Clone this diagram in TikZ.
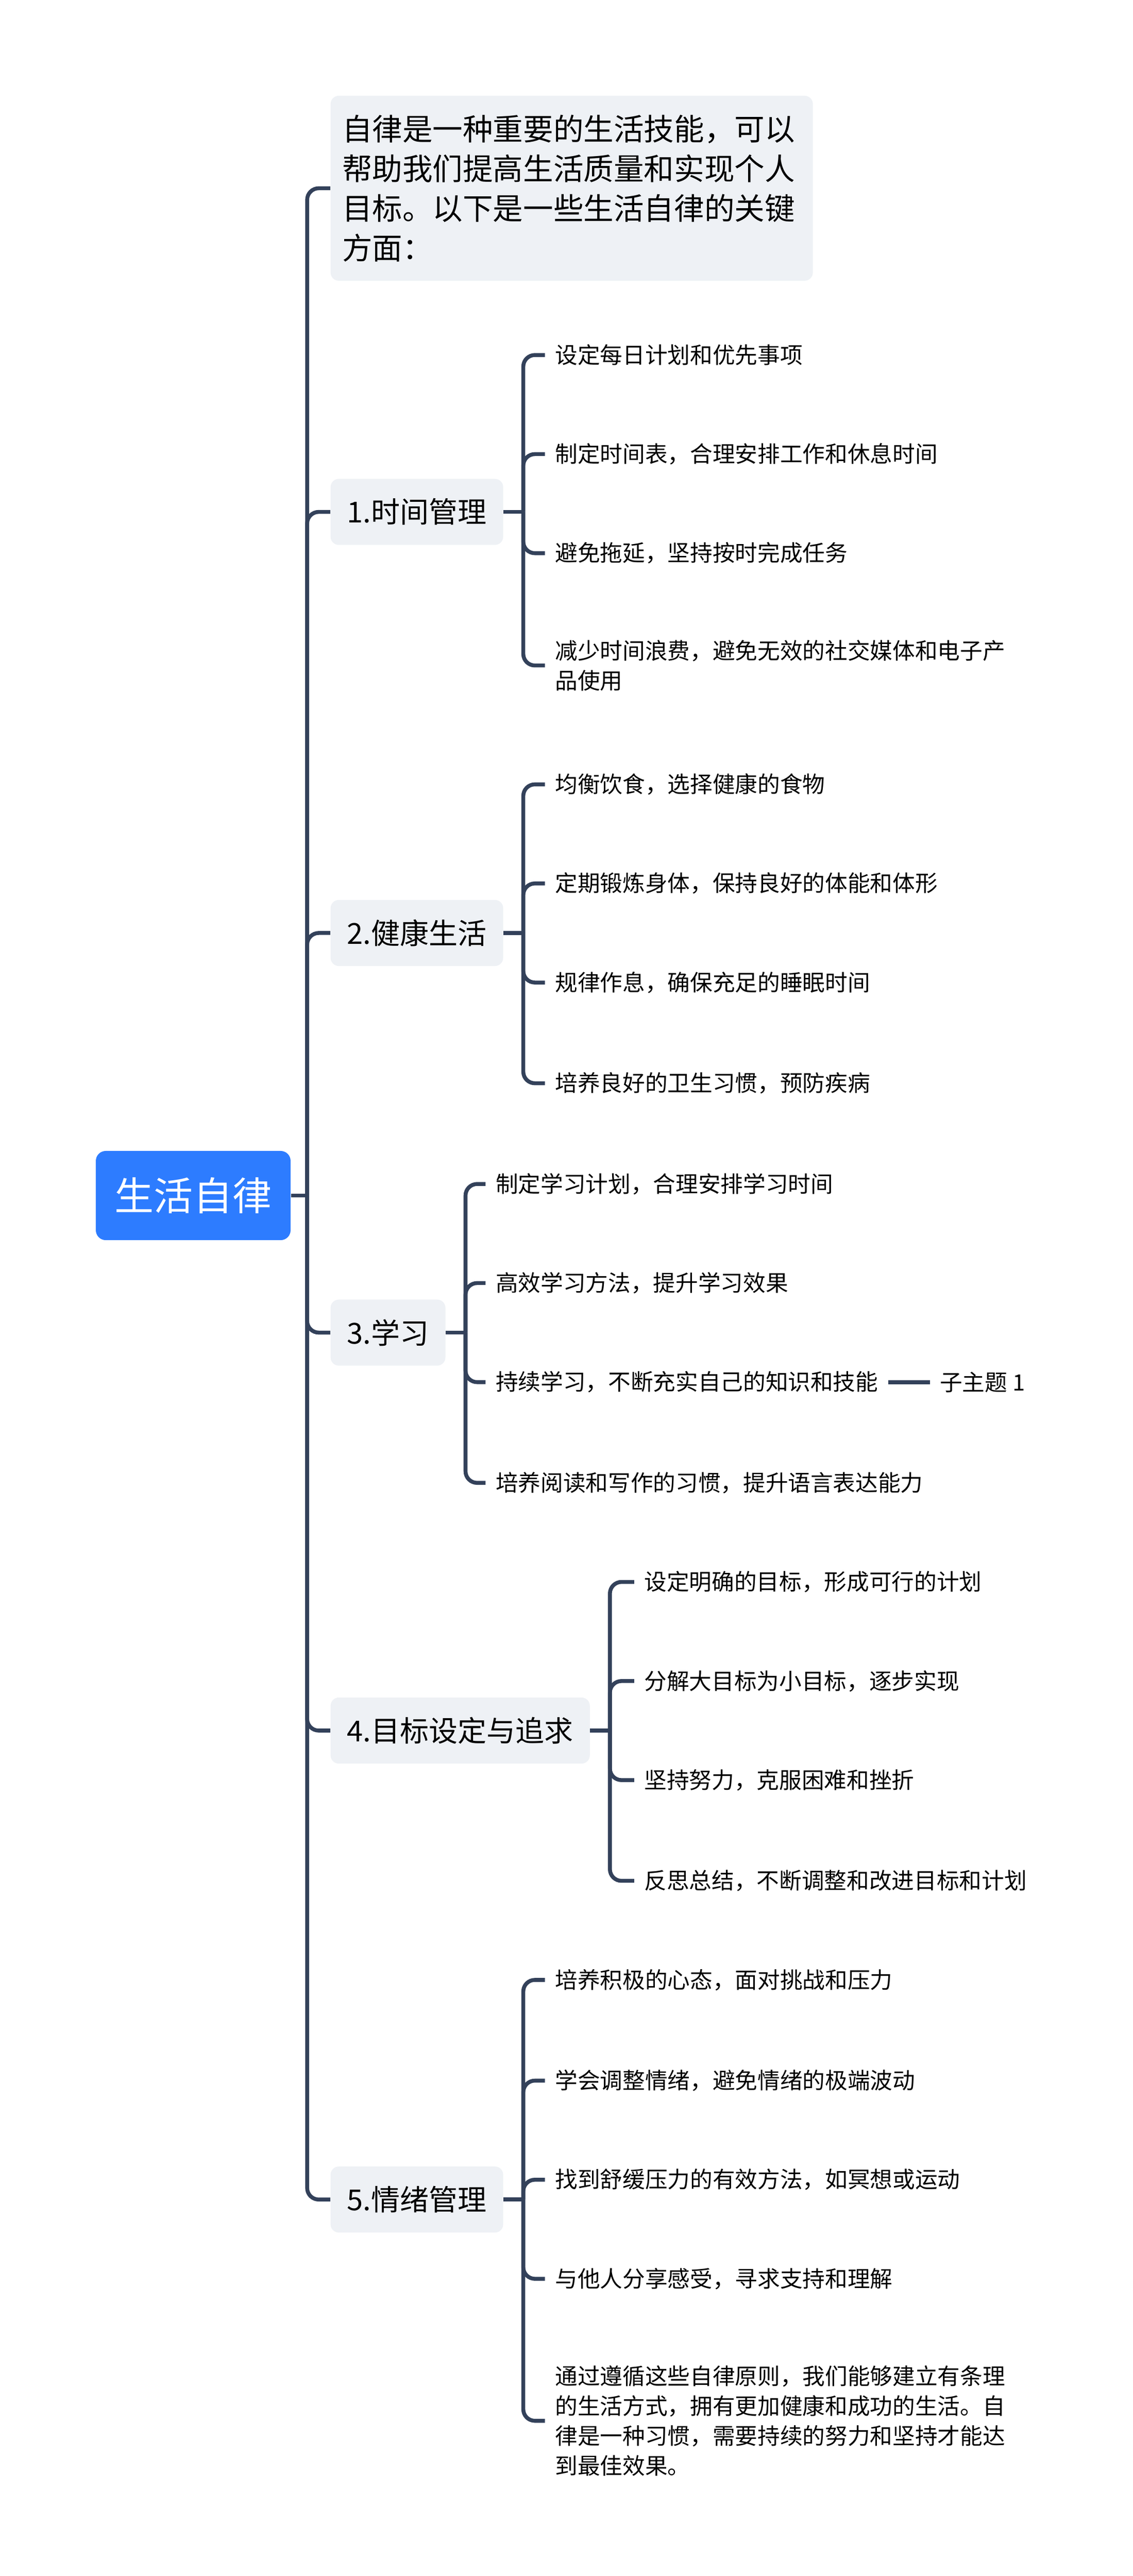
\documentclass[tikz,border=0pt]{standalone}
\usepackage{fontspec}
\setmainfont{Noto Sans CJK SC}
\usepackage{xcolor}
\usepackage{tikz}
\definecolor{linecol}{RGB}{51,65,90}
\definecolor{rootblue}{RGB}{45,124,255}
\definecolor{topicgray}{RGB}{238,241,245}

\begin{document}
\begin{tikzpicture}[x=0.04cm,y=-0.04cm,
  link/.style={draw=linecol,line width=2.7pt,rounded corners=0.28cm},
  rootbox/.style={fill=rootblue,text=white,rounded corners=0.24cm,inner xsep=0.46cm,minimum height=2.16cm,font=\fontsize{27}{32}\selectfont},
  topic/.style={fill=topicgray,rounded corners=0.2cm,inner xsep=0.4cm,minimum height=1.6cm,anchor=west,font=\fontsize{19.9}{24}\selectfont},
  leaf/.style={anchor=west,inner xsep=0.24cm,inner ysep=0pt,align=left,font=\fontsize{15.5}{20.5}\selectfont}]
\useasboundingbox (0,0) rectangle (686,1560);

% root and main trunk
\node[rootbox] (root) at (117,724) {生活自律};
\coordinate (hub) at (186,724);
\draw[link] (root.east) -- (hub);

\node[topic,align=left,text width=11.12cm,inner xsep=0.28cm,minimum height=4.48cm,font=\fontsize{20.8}{27.3}\selectfont] (intro) at (200,114) {自律是一种重要的生活技能，可以\\帮助我们提高生活质量和实现个人\\目标。以下是一些生活自律的关键\\方面：};
\node[topic] (t1) at (200,310) {1.时间管理};
\node[topic] (t2) at (200,565) {2.健康生活};
\node[topic] (t3) at (200,807) {3.学习};
\node[topic] (t4) at (200,1048) {4.目标设定与追求};
\node[topic] (t5) at (200,1332) {5.情绪管理};
\draw[link] (hub) |- (intro.west);
\draw[link] (hub) |- (t1.west);
\draw[link] (hub) |- (t2.west);
\draw[link] (hub) |- (t3.west);
\draw[link] (hub) |- (t4.west);
\draw[link] (hub) |- (t5.west);

% 1
\node[leaf] (a1) at (330,215) {设定每日计划和优先事项};
\node[leaf] (a2) at (330,275) {制定时间表，合理安排工作和休息时间};
\node[leaf] (a3) at (330,335) {避免拖延，坚持按时完成任务};
\node[leaf] (a4) at (330,403) {减少时间浪费，避免无效的社交媒体和电子产\\品使用};
\draw[link] (t1.east) -- ++(12,0) coordinate (j1);
\draw[link] (j1) |- (a1.west);
\draw[link] (j1) |- (a2.west);
\draw[link] (j1) |- (a3.west);
\draw[link] (j1) |- (a4.west);

% 2
\node[leaf] (b1) at (330,475) {均衡饮食，选择健康的食物};
\node[leaf] (b2) at (330,535) {定期锻炼身体，保持良好的体能和体形};
\node[leaf] (b3) at (330,595) {规律作息，确保充足的睡眠时间};
\node[leaf] (b4) at (330,656) {培养良好的卫生习惯，预防疾病};
\draw[link] (t2.east) -- ++(12,0) coordinate (j2);
\draw[link] (j2) |- (b1.west);
\draw[link] (j2) |- (b2.west);
\draw[link] (j2) |- (b3.west);
\draw[link] (j2) |- (b4.west);

% 3
\node[leaf] (c1) at (294,717) {制定学习计划，合理安排学习时间};
\node[leaf] (c2) at (294,777) {高效学习方法，提升学习效果};
\node[leaf] (c3) at (294,837) {持续学习，不断充实自己的知识和技能};
\node[leaf] (c4) at (294,898) {培养阅读和写作的习惯，提升语言表达能力};
\node[leaf] (s1) at (563,837) {子主题 1};
\draw[link] (t3.east) -- ++(12,0) coordinate (j3);
\draw[link] (j3) |- (c1.west);
\draw[link] (j3) |- (c2.west);
\draw[link] (j3) |- (c3.west);
\draw[link] (j3) |- (c4.west);
\draw[link] (c3.east) -- (s1.west);

% 4
\node[leaf] (d1) at (384,958) {设定明确的目标，形成可行的计划};
\node[leaf] (d2) at (384,1018) {分解大目标为小目标，逐步实现};
\node[leaf] (d3) at (384,1078) {坚持努力，克服困难和挫折};
\node[leaf] (d4) at (384,1139) {反思总结，不断调整和改进目标和计划};
\draw[link] (t4.east) -- ++(12,0) coordinate (j4);
\draw[link] (j4) |- (d1.west);
\draw[link] (j4) |- (d2.west);
\draw[link] (j4) |- (d3.west);
\draw[link] (j4) |- (d4.west);

% 5
\node[leaf] (e1) at (330,1199) {培养积极的心态，面对挑战和压力};
\node[leaf] (e2) at (330,1260) {学会调整情绪，避免情绪的极端波动};
\node[leaf] (e3) at (330,1320) {找到舒缓压力的有效方法，如冥想或运动};
\node[leaf] (e4) at (330,1380) {与他人分享感受，寻求支持和理解};
\node[leaf] (e5) at (330,1466) {通过遵循这些自律原则，我们能够建立有条理\\的生活方式，拥有更加健康和成功的生活。自\\律是一种习惯，需要持续的努力和坚持才能达\\到最佳效果。};
\draw[link] (t5.east) -- ++(12,0) coordinate (j5);
\draw[link] (j5) |- (e1.west);
\draw[link] (j5) |- (e2.west);
\draw[link] (j5) |- (e3.west);
\draw[link] (j5) |- (e4.west);
\draw[link] (j5) |- (e5.west);
\end{tikzpicture}
\end{document}
